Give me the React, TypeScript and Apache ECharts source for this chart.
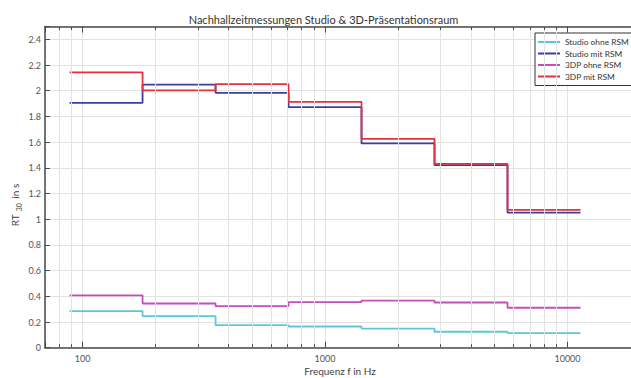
import React, { useEffect, useRef } from 'react';
import * as echarts from 'echarts';

const chartTitle = 'Nachhallzeitmessungen Studio & 3D-Präsentationsraum';
const xTitle = 'Frequenz f in Hz';
// octave band edges (Hz)
const bandEdges = [88.4, 176.8, 353.6, 707.1, 1414, 2828, 5657, 11314];
// RT30 in s per octave band (125 Hz ... 8 kHz)
const studioOhne = [0.284, 0.246, 0.175, 0.165, 0.149, 0.124, 0.114];
const studioMit = [1.906, 2.047, 1.984, 1.873, 1.59, 1.421, 1.052];
const dpOhne = [0.408, 0.344, 0.324, 0.354, 0.367, 0.352, 0.311];
const dpMit = [2.143, 2.003, 2.052, 1.914, 1.626, 1.431, 1.073];
const seriesNames = ['Studio ohne RSM', 'Studio mit RSM', '3DP ohne RSM', '3DP mit RSM'];
const seriesValues = [studioOhne, studioMit, dpOhne, dpMit];
const seriesColors = ['#5ec6dc', '#3a3fa8', '#c24fba', '#e6303f'];
const xMajorTicks = [100, 1000, 10000];
const xMinorTicks = [80, 90, 200, 300, 400, 500, 600, 700, 800, 900, 2000, 3000, 4000, 5000, 6000, 7000, 8000, 9000];

const FONT = 'Lato';
const AXIS_COLOR = '#4a4a4a';
const GRID_COLOR = '#e2e2e2';

export default function App() {
  const ref = useRef<HTMLDivElement>(null);
  useEffect(() => {
    if (!ref.current) return;
    const chart = echarts.init(ref.current, undefined, { renderer: 'svg' });
    const stepData = (vals: number[]) =>
      bandEdges.map((e, i) => [e, vals[Math.min(i, vals.length - 1)]]);

    const minorGrid = xMinorTicks.map((v) => ({ xAxis: v }));
    const minorTicks: any[] = [];
    xMinorTicks.forEach((v) => {
      minorTicks.push([{ coord: [v, 0] }, { coord: [v, 0.027] }]);
      minorTicks.push([{ coord: [v, 2.5] }, { coord: [v, 2.473] }]);
    });

    const baseX = {
      type: 'log',
      logBase: 10,
      min: 70,
      max: 20000,
      axisLine: { show: true, lineStyle: { color: AXIS_COLOR, width: 1.5 } },
      axisTick: { show: true, inside: true, length: 6, lineStyle: { color: AXIS_COLOR, width: 1 } },
    };

    chart.setOption({
      animation: false,
      color: seriesColors,
      textStyle: { fontFamily: FONT },
      grid: { left: 45, top: 26.5, right: 19.5, bottom: 30.3, containLabel: false, outerBoundsMode: 'none' },
      legend: {
        data: seriesNames,
        orient: 'vertical',
        left: 535,
        top: 33,
        icon: 'rect',
        itemWidth: 22,
        itemHeight: 2,
        itemGap: 1.5,
        padding: [4, 8, 4, 3],
        borderColor: '#333',
        borderWidth: 1,
        backgroundColor: '#fff',
        textStyle: { fontFamily: FONT, fontSize: 8.4, color: '#333', lineHeight: 10 },
        selectedMode: false,
      },
      xAxis: [
        {
          ...baseX,
          position: 'bottom',
          axisLabel: {
            show: true,
            margin: 6,
            fontFamily: FONT,
            fontSize: 9,
            color: '#555',
            formatter: (v: number) => {
              const r = Math.round(v);
              return xMajorTicks.includes(r) ? String(r) : '';
            },
          },
          splitLine: { show: true, lineStyle: { color: GRID_COLOR, width: 1 } },
        },
        {
          ...baseX,
          position: 'top',
          axisLabel: { show: false },
          splitLine: { show: false },
        },
      ],
      yAxis: {
        type: 'value',
        min: 0,
        max: 2.5,
        interval: 0.2,
        axisLine: { show: true, lineStyle: { color: AXIS_COLOR, width: 1.5 } },
        axisTick: { show: true, inside: true, length: 5, lineStyle: { color: AXIS_COLOR, width: 1 } },
        axisLabel: {
          margin: 4,
          fontFamily: FONT,
          fontSize: 9,
          color: '#555',
          formatter: (v: number) => (v > 2.45 ? '' : String(+v.toFixed(1))),
        },
        splitLine: { show: true, lineStyle: { color: GRID_COLOR, width: 1 } },
      },
      graphic: [
        {
          type: 'text',
          x: 323.5,
          y: 19,
          style: {
            text: chartTitle,
            align: 'center',
            verticalAlign: 'middle',
            textAlign: 'center',
            textVerticalAlign: 'middle',
            fontFamily: FONT,
            fontSize: 11,
            fill: '#333',
          },
        },
        {
          type: 'text',
          x: 340,
          y: 371,
          style: {
            text: xTitle,
            align: 'center',
            verticalAlign: 'middle',
            textAlign: 'center',
            textVerticalAlign: 'middle',
            fontFamily: FONT,
            fontSize: 10,
            fill: '#444',
          },
        },
        {
          type: 'text',
          x: 15,
          y: 205,
          rotation: Math.PI / 2,
          style: {
            text: '{a|RT}{b|30}{a| in s}',
            align: 'center',
            verticalAlign: 'middle',
            textAlign: 'center',
            textVerticalAlign: 'middle',
            rich: {
              a: { fontFamily: FONT, fontSize: 10, fill: '#444', color: '#444' },
              b: { fontFamily: FONT, fontSize: 7, fill: '#444', color: '#444', padding: [7, 2, 0, 3] },
            },
          },
        },
      ],
      series: [
        {
          type: 'line',
          data: [],
          z: 1,
          silent: true,
          markLine: {
            silent: true,
            symbol: ['none', 'none'],
            label: { show: false },
            lineStyle: { color: GRID_COLOR, width: 1, type: 'solid' },
            emphasis: { disabled: true },
            data: minorGrid,
          },
        },
        {
          type: 'line',
          data: [],
          z: 5,
          silent: true,
          markLine: {
            silent: true,
            symbol: ['none', 'none'],
            label: { show: false },
            lineStyle: { color: AXIS_COLOR, width: 1, type: 'solid' },
            emphasis: { disabled: true },
            data: minorTicks,
          },
        },
        ...seriesNames.map((name, i) => ({
          name,
          type: 'line',
          step: 'end',
          z: 3,
          symbol: 'none',
          data: stepData(seriesValues[i]),
          lineStyle: { color: seriesColors[i], width: 1.8 },
          itemStyle: { color: seriesColors[i] },
        })),
      ],
    });
    return () => chart.dispose();
  }, []);
  return (
    <div
      ref={ref}
      style={{ position: 'fixed', left: 0, top: 0, width: 660, height: 378, background: '#fff' }}
    />
  );
}
